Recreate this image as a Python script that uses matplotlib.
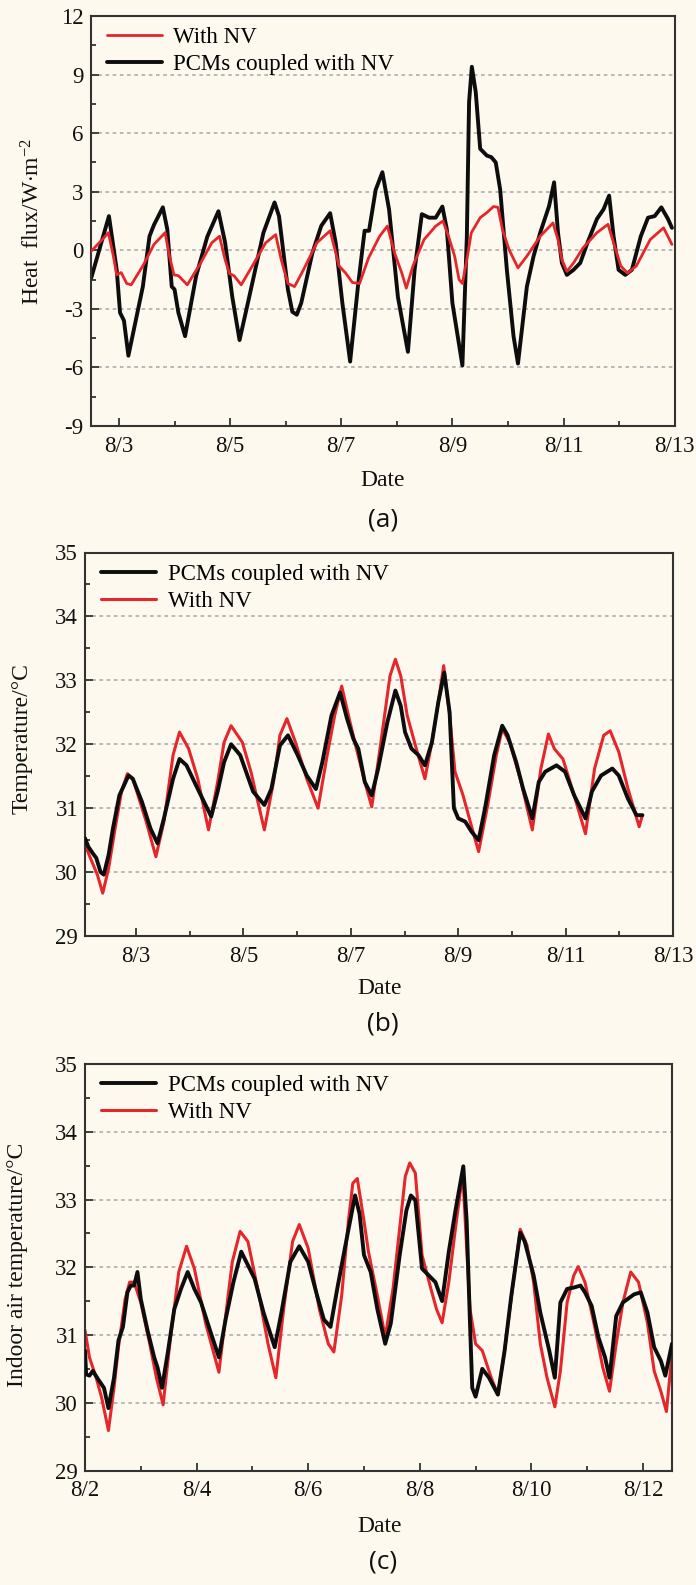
import matplotlib
matplotlib.use("Agg")
import matplotlib.pyplot as plt
from matplotlib.ticker import MultipleLocator, FixedLocator

# ---------------- data ----------------
# Panel (a): heat flux (W/m2), x in day-of-August
a_black_day = [2.50, 2.82, 2.96, 3.02, 3.09, 3.17, 3.43, 3.55, 3.63, 3.79, 3.87, 3.95, 4.00, 4.07, 4.19,
               4.39, 4.59, 4.79, 4.91, 5.04, 5.17, 5.32, 5.60, 5.80, 5.88, 6.04, 6.12, 6.20, 6.28,
               6.48, 6.64, 6.80, 6.90, 7.02, 7.16, 7.30, 7.42, 7.50, 7.62, 7.74, 7.86, 8.02, 8.20,
               8.32, 8.45, 8.58, 8.70, 8.82, 8.90, 9.00, 9.18, 9.26, 9.30, 9.35, 9.42, 9.50, 9.62,
               9.70, 9.78, 9.86, 9.98, 10.10, 10.18, 10.34, 10.46, 10.58, 10.74, 10.83, 10.90, 10.97,
               11.06, 11.18, 11.30, 11.43, 11.60, 11.72, 11.82, 11.90, 11.99, 12.11, 12.23, 12.39,
               12.52, 12.64, 12.76, 12.88, 12.95]
a_black_val = [-1.43, 1.75, -1.0, -3.2, -3.6, -5.4, -1.86, 0.72, 1.3, 2.2, 1.07, -1.86, -2.0, -3.2, -4.4,
               -1.3, 0.7, 2.0, 0.4, -2.4, -4.6, -2.7, 0.9, 2.45, 1.75, -2.0, -3.15, -3.3, -2.7,
               -0.14, 1.25, 1.9, 0.38, -2.7, -5.7, -1.86, 1.0, 1.0, 3.1, 4.0, 2.1, -2.4, -5.2,
               -1.0, 1.85, 1.67, 1.67, 2.24, 1.07, -2.7, -5.9, 0.7, 7.6, 9.4, 8.1, 5.2, 4.85,
               4.77, 4.5, 3.1, -1.0, -4.4, -5.8, -1.86, -0.31, 0.9, 2.27, 3.48, 0.9, -0.65,
               -1.26, -1.0, -0.65, 0.38, 1.6, 2.1, 2.8, 0.72, -1.0, -1.26, -1.0, 0.72,
               1.67, 1.75, 2.2, 1.6, 1.15]

a_red_day = [2.50, 2.70, 2.81, 2.90, 2.96, 3.04, 3.14, 3.22, 3.43, 3.63, 3.83, 3.91, 3.99, 4.07, 4.23,
             4.47, 4.67, 4.81, 4.91, 4.99, 5.07, 5.20, 5.40, 5.64, 5.82, 5.92, 6.04, 6.16, 6.32,
             6.56, 6.80, 6.96, 7.08, 7.20, 7.33, 7.49, 7.69, 7.83, 7.96, 8.09, 8.17, 8.29, 8.49,
             8.70, 8.83, 8.93, 9.04, 9.12, 9.18, 9.26, 9.34, 9.50, 9.62, 9.74, 9.82, 9.90, 10.02,
             10.18, 10.34, 10.58, 10.81, 10.90, 10.97, 11.06, 11.18, 11.35, 11.60, 11.80, 11.90,
             12.03, 12.15, 12.31, 12.56, 12.80, 12.95]
a_red_val = [-0.05, 0.55, 0.9, -0.3, -1.26, -1.14, -1.7, -1.77, -0.8, 0.3, 0.9, -0.3, -1.26, -1.3, -1.77,
             -0.65, 0.38, 0.72, -0.48, -1.2, -1.3, -1.77, -0.8, 0.38, 0.8, -0.48, -1.7, -1.86, -1.0,
             0.38, 1.0, -0.8, -1.17, -1.65, -1.7, -0.4, 0.72, 1.24, -0.14, -1.17, -1.94, -0.8, 0.55,
             1.24, 1.5, 0.72, -0.3, -1.5, -1.7, -0.48, 0.9, 1.67, 1.93, 2.24, 2.2, 1.07, 0.03,
             -0.9, -0.3, 0.72, 1.4, 0.55, -0.48, -1.08, -0.65, 0.12, 0.9, 1.33, 0.38,
             -0.8, -1.17, -0.8, 0.55, 1.15, 0.3]

# Panel (b): temperature (deg C)
b_black_day = [2.05, 2.11, 2.19, 2.26, 2.34, 2.40, 2.49, 2.57, 2.69, 2.86, 2.94, 3.11, 3.27, 3.40, 3.52,
               3.69, 3.81, 3.94, 4.15, 4.40, 4.52, 4.64, 4.77, 4.94, 5.18, 5.39, 5.52, 5.68, 5.83,
               6.01, 6.18, 6.35, 6.47, 6.64, 6.80, 6.93, 7.05, 7.14, 7.26, 7.39, 7.51, 7.68, 7.83,
               7.93, 8.01, 8.13, 8.26, 8.38, 8.51, 8.63, 8.74, 8.84, 8.92, 9.00, 9.13, 9.25, 9.38,
               9.50, 9.67, 9.82, 9.92, 10.08, 10.21, 10.38, 10.50, 10.62, 10.83, 10.99, 11.16, 11.37,
               11.49, 11.66, 11.87, 11.99, 12.16, 12.32, 12.43]
b_black_val = [30.53, 30.40, 30.30, 30.22, 30.00, 29.96, 30.27, 30.68, 31.20, 31.51, 31.46, 31.10, 30.68, 30.45, 30.84,
               31.46, 31.77, 31.67, 31.30, 30.87, 31.26, 31.72, 32.00, 31.83, 31.26, 31.05, 31.30, 31.98, 32.14,
               31.83, 31.51, 31.30, 31.72, 32.45, 32.81, 32.40, 32.08, 31.93, 31.41, 31.20, 31.62, 32.34, 32.84,
               32.60, 32.19, 31.93, 31.83, 31.67, 32.03, 32.66, 33.12, 32.50, 31.00, 30.84, 30.79, 30.63, 30.50,
               31.00, 31.83, 32.29, 32.14, 31.72, 31.30, 30.84, 31.41, 31.57, 31.67, 31.57, 31.20, 30.84,
               31.26, 31.51, 31.62, 31.51, 31.15, 30.89, 30.89]

b_red_day = [2.05, 2.15, 2.28, 2.38, 2.49, 2.61, 2.73, 2.84, 2.94, 3.19, 3.37, 3.52, 3.69, 3.81, 3.98,
             4.15, 4.35, 4.52, 4.64, 4.77, 4.98, 5.14, 5.39, 5.56, 5.68, 5.81, 5.97, 6.18, 6.39,
             6.56, 6.70, 6.83, 6.97, 7.09, 7.26, 7.39, 7.56, 7.73, 7.83, 7.93, 8.05, 8.22, 8.38,
             8.51, 8.63, 8.73, 8.84, 8.94, 9.09, 9.24, 9.38, 9.55, 9.71, 9.82, 9.96, 10.17, 10.38,
             10.54, 10.68, 10.79, 10.95, 11.16, 11.37, 11.54, 11.71, 11.83, 11.99, 12.16, 12.37, 12.43]
b_red_val = [30.43, 30.22, 29.96, 29.67, 30.06, 30.68, 31.26, 31.54, 31.46, 30.79, 30.24, 30.79, 31.83, 32.19, 31.93,
             31.46, 30.66, 31.41, 32.03, 32.29, 32.03, 31.57, 30.66, 31.41, 32.14, 32.40, 32.03, 31.46, 31.00,
             31.83, 32.45, 32.91, 32.40, 31.98, 31.41, 31.02, 32.03, 33.07, 33.33, 33.07, 32.45, 31.93, 31.46,
             32.03, 32.66, 33.23, 32.45, 31.57, 31.20, 30.74, 30.32, 31.05, 31.83, 32.24, 32.03, 31.41, 30.66,
             31.62, 32.16, 31.93, 31.77, 31.20, 30.60, 31.62, 32.14, 32.21, 31.88, 31.31, 30.71, 30.89]

# Panel (c): indoor air temperature (deg C)
c_black_day = [2.00, 2.02, 2.08, 2.14, 2.24, 2.34, 2.42, 2.52, 2.60, 2.68, 2.76, 2.82, 2.88, 2.94, 3.00,
               3.12, 3.24, 3.30, 3.38, 3.48, 3.60, 3.72, 3.84, 3.96, 4.08, 4.24, 4.40, 4.52, 4.66,
               4.80, 4.92, 5.04, 5.20, 5.40, 5.52, 5.68, 5.84, 6.00, 6.16, 6.28, 6.40, 6.52, 6.68,
               6.84, 6.92, 7.00, 7.12, 7.24, 7.38, 7.48, 7.64, 7.76, 7.84, 7.92, 8.04, 8.16, 8.28,
               8.40, 8.52, 8.64, 8.78, 8.84, 8.90, 8.94, 9.00, 9.12, 9.24, 9.40, 9.52, 9.64, 9.80,
               9.88, 10.04, 10.16, 10.32, 10.42, 10.52, 10.64, 10.76, 10.88, 10.96, 11.08, 11.20,
               11.32, 11.40, 11.52, 11.64, 11.84, 11.96, 12.08, 12.20, 12.32, 12.40, 12.52]
c_black_val = [30.77, 30.42, 30.40, 30.47, 30.34, 30.22, 29.92, 30.37, 30.92, 31.12, 31.63, 31.73, 31.73, 31.93, 31.53,
               31.07, 30.67, 30.52, 30.22, 30.72, 31.38, 31.68, 31.93, 31.68, 31.48, 31.07, 30.67, 31.23, 31.78,
               32.23, 32.03, 31.83, 31.33, 30.82, 31.33, 32.08, 32.31, 32.08, 31.58, 31.23, 31.12, 31.68, 32.38,
               33.06, 32.79, 32.18, 31.93, 31.38, 30.87, 31.17, 32.18, 32.84, 33.06, 32.99, 31.98, 31.88, 31.78,
               31.50, 32.23, 32.84, 33.49, 32.68, 31.17, 30.22, 30.09, 30.50, 30.37, 30.12, 30.77, 31.58, 32.51,
               32.38, 31.88, 31.33, 30.77, 30.37, 31.48, 31.68, 31.70, 31.73, 31.63, 31.43, 30.97,
               30.67, 30.37, 31.28, 31.48, 31.60, 31.63, 31.33, 30.82, 30.62, 30.40, 30.87]

c_red_day = [2.00, 2.08, 2.20, 2.30, 2.42, 2.52, 2.60, 2.72, 2.80, 2.88, 3.00, 3.16, 3.28, 3.40, 3.52,
             3.68, 3.82, 3.96, 4.16, 4.40, 4.52, 4.64, 4.78, 4.92, 5.12, 5.28, 5.42, 5.56, 5.72,
             5.84, 6.00, 6.20, 6.36, 6.46, 6.60, 6.72, 6.80, 6.88, 7.00, 7.08, 7.24, 7.38, 7.52,
             7.64, 7.74, 7.82, 7.92, 8.04, 8.20, 8.30, 8.40, 8.52, 8.64, 8.77, 8.84, 8.90, 9.00,
             9.12, 9.28, 9.40, 9.52, 9.66, 9.80, 9.92, 10.04, 10.16, 10.28, 10.42, 10.52, 10.64,
             10.76, 10.84, 10.96, 11.12, 11.28, 11.40, 11.52, 11.64, 11.78, 11.92, 12.08, 12.20,
             12.32, 12.42, 12.52]
c_red_val = [31.07, 30.67, 30.37, 30.07, 29.59, 30.22, 30.82, 31.53, 31.78, 31.78, 31.48, 30.87, 30.37, 29.97, 30.87,
             31.93, 32.31, 31.98, 31.18, 30.45, 31.28, 32.08, 32.53, 32.38, 31.58, 30.87, 30.37, 31.38, 32.38,
             32.63, 32.28, 31.38, 30.87, 30.75, 31.58, 32.68, 33.24, 33.31, 32.68, 32.23, 31.58, 30.97, 31.68,
             32.58, 33.34, 33.54, 33.39, 32.18, 31.68, 31.38, 31.18, 31.78, 32.58, 33.39, 32.28, 31.38, 30.87,
             30.77, 30.37, 30.12, 30.77, 31.68, 32.56, 32.33, 31.78, 30.87, 30.37, 29.94, 30.47, 31.48,
             31.88, 32.01, 31.78, 31.18, 30.52, 30.17, 30.87, 31.48, 31.93, 31.78, 31.18, 30.47,
             30.17, 29.87, 30.72]

ticks_a = [3, 5, 7, 9, 11, 13]
labels_a = ["8/3", "8/5", "8/7", "8/9", "8/11", "8/13"]
ticks_b = [3, 5, 7, 9, 11, 13]
labels_b = ["8/3", "8/5", "8/7", "8/9", "8/11", "8/13"]
ticks_c = [2, 4, 6, 8, 10, 12]
labels_c = ["8/2", "8/4", "8/6", "8/8", "8/10", "8/12"]

# ---------------- style ----------------
W, H = 696, 1585
BG = "#fdf9ee"
RED = "#e5262b"
BLACK = "#0d0d0d"
SERIF = "Liberation Serif"
plt.rcParams["font.family"] = [SERIF, "DejaVu Serif"]
plt.rcParams["mathtext.fontset"] = "custom"
plt.rcParams["mathtext.rm"] = SERIF
plt.rcParams["mathtext.it"] = SERIF + ":italic"
plt.rcParams["axes.unicode_minus"] = False
plt.rcParams["lines.solid_joinstyle"] = "round"
plt.rcParams["lines.solid_capstyle"] = "round"

fig = plt.figure(figsize=(W / 100, H / 100), dpi=100, facecolor=BG)


def add_axes_px(left, top, right, bottom):
    return fig.add_axes([left / W, 1 - bottom / H, (right - left) / W, (bottom - top) / H])


def style_axes(ax, xlim, ylim, ymaj, ymin, xt, xl):
    ax.set_facecolor(BG)
    ax.set_xlim(*xlim)
    ax.set_ylim(*ylim)
    ax.yaxis.set_major_locator(MultipleLocator(ymaj))
    ax.yaxis.set_minor_locator(MultipleLocator(ymin))
    ax.xaxis.set_major_locator(FixedLocator(xt))
    ax.xaxis.set_minor_locator(MultipleLocator(1))
    ax.set_xticklabels(xl)
    ax.tick_params(axis="both", which="both", direction="in", top=False, right=False,
                   colors="#333333", labelcolor="#111111", labelsize=16.5)
    ax.tick_params(axis="both", which="major", length=6, width=1.3)
    ax.tick_params(axis="both", which="minor", length=3.5, width=1.3)
    ax.tick_params(axis="x", pad=7)
    ax.tick_params(axis="y", pad=5)
    for s in ax.spines.values():
        s.set_color("#333333")
        s.set_linewidth(1.5)
    lo, hi = ylim
    v = lo + ymaj
    while v < hi - 1e-9:
        ax.axhline(v, color="#b4b4b4", lw=1.3, ls=(0, (2.0, 2.0)), zorder=0)
        v += ymaj


LEG = dict(loc="upper left", bbox_to_anchor=(0.0, 1.012), frameon=False, fontsize=16.5,
           handlelength=2.4, handletextpad=0.5, labelspacing=0.25, borderaxespad=0.3)

# ---- panel (a)
axa = add_axes_px(90.6, 16, 674.7, 426)
style_axes(axa, (2.49, 13.0), (-9, 12), 3, 1.5, ticks_a, labels_a)
la_red, = axa.plot(a_red_day, a_red_val, color=RED, lw=2.0, label="With NV", zorder=3)
la_blk, = axa.plot(a_black_day, a_black_val, color=BLACK, lw=2.8, label="PCMs coupled with NV", zorder=2)
axa.legend(handles=[la_red, la_blk], **LEG)

# ---- panel (b)
axb = add_axes_px(85, 552.5, 673, 936)
style_axes(axb, (2.05, 13.0), (29, 35), 1, 0.5, ticks_b, labels_b)
lb_blk, = axb.plot(b_black_day, b_black_val, color=BLACK, lw=2.8, label="PCMs coupled with NV", zorder=3)
lb_red, = axb.plot(b_red_day, b_red_val, color=RED, lw=2.2, label="With NV", zorder=2)
axb.legend(handles=[lb_blk, lb_red], **LEG)

# ---- panel (c)
axc = add_axes_px(85, 1064, 672, 1470.5)
style_axes(axc, (2.0, 12.52), (29, 35), 1, 0.5, ticks_c, labels_c)
lc_blk, = axc.plot(c_black_day, c_black_val, color=BLACK, lw=2.8, label="PCMs coupled with NV", zorder=3)
lc_red, = axc.plot(c_red_day, c_red_val, color=RED, lw=2.2, label="With NV", zorder=2)
axc.legend(handles=[lc_blk, lc_red], **LEG)

# ---- labels
def ftext(x, y, s, **kw):
    fig.text(x / W, 1 - y / H, s, ha="center", va="center", **kw)

ftext(33, 221, r"Heat  flux/W$\cdot$m$^{-2}$", rotation=90, fontsize=17, color="#111111")
ftext(22, 739, "Temperature/°C", rotation=90, fontsize=17, color="#111111")
ftext(18, 1265, "Indoor air temperature/°C", rotation=90, fontsize=17, color="#111111")

ftext(383, 480, "Date", fontsize=17, color="#111111")
ftext(380, 988, "Date", fontsize=17, color="#111111")
ftext(380, 1526, "Date", fontsize=17, color="#111111")

SANS = ["Open Sans", "DejaVu Sans"]
ftext(383, 520, "(a)", fontsize=19, family=SANS, color="#111111")
ftext(383, 1024, "(b)", fontsize=19, family=SANS, color="#111111")
ftext(383, 1562, "(c)", fontsize=19, family=SANS, color="#111111")

fig.savefig("out.png", dpi=100, facecolor=BG)
